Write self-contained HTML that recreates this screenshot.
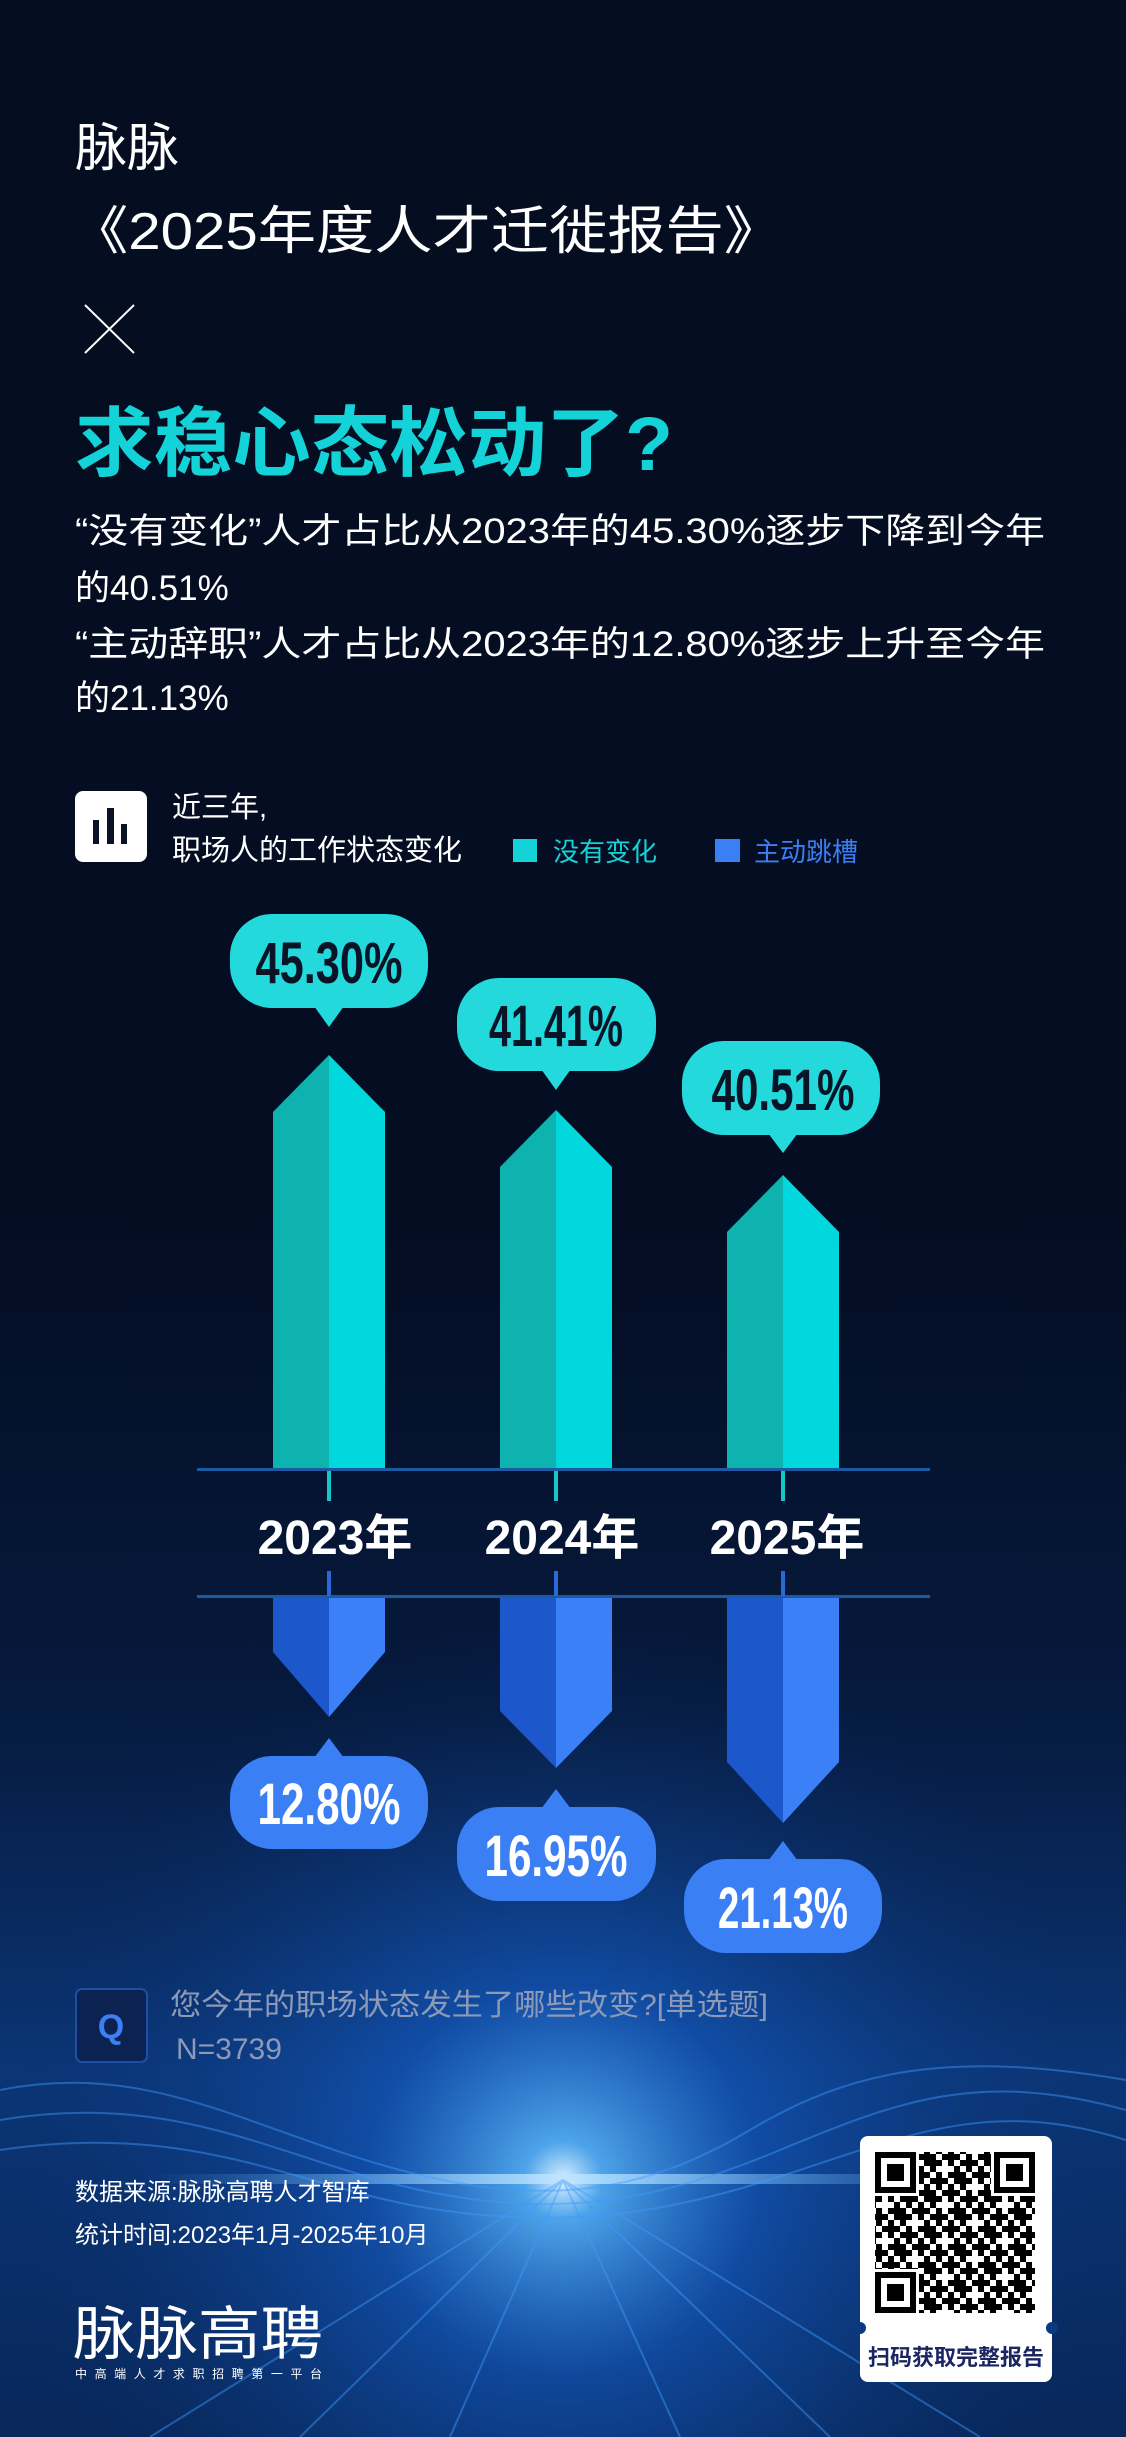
<!DOCTYPE html>
<html><head><meta charset="utf-8"><style>
html,body{margin:0;padding:0;background:#050e22;}
svg{display:block}
text{font-family:"Liberation Sans","Noto Sans CJK SC",sans-serif;}
</style></head><body>
<svg width="1126" height="2437" viewBox="0 0 1126 2437" xmlns="http://www.w3.org/2000/svg">
<defs>
<linearGradient id="bg" x1="0" y1="0" x2="0" y2="1">
<stop offset="0" stop-color="#050d20"/>
<stop offset="0.5" stop-color="#040d22"/>
<stop offset="0.7" stop-color="#061a3e"/>
<stop offset="0.85" stop-color="#0b3576"/>
<stop offset="1" stop-color="#08275a"/>
</linearGradient>
<radialGradient id="glow" cx="563" cy="2180" r="560" gradientUnits="userSpaceOnUse">
<stop offset="0" stop-color="#e0f2ff" stop-opacity="1"/>
<stop offset="0.07" stop-color="#5ab8ff" stop-opacity="0.85"/>
<stop offset="0.35" stop-color="#1766d8" stop-opacity="0.5"/>
<stop offset="1" stop-color="#0a2f6a" stop-opacity="0"/>
</radialGradient>
<linearGradient id="band" x1="0" y1="0" x2="1" y2="0">
<stop offset="0" stop-color="#5ab8ff" stop-opacity="0"/>
<stop offset="0.5" stop-color="#bfe4ff" stop-opacity="0.9"/>
<stop offset="1" stop-color="#5ab8ff" stop-opacity="0"/>
</linearGradient>
<pattern id="qa" width="12" height="12" patternUnits="userSpaceOnUse">
<rect x="0" y="0" width="6" height="6" fill="#000"/><rect x="6" y="6" width="6" height="6" fill="#000"/>
</pattern>
<pattern id="qb" width="30" height="18" patternUnits="userSpaceOnUse">
<rect x="0" y="0" width="12" height="6" fill="#000"/><rect x="18" y="12" width="12" height="6" fill="#000"/><rect x="12" y="6" width="6" height="6" fill="#fff"/>
</pattern>
</defs>
<rect width="1126" height="2437" fill="url(#bg)"/>
<rect y="1450" width="1126" height="987" fill="url(#glow)"/>
<rect x="150" y="2174" width="826" height="10" fill="url(#band)"/>
<g fill="none" stroke="#3f9bff" stroke-opacity="0.45" stroke-width="2">
<path d="M0 2090 C150 2060 250 2130 400 2170 S650 2190 750 2130 S950 2050 1126 2080"/>
<path d="M0 2120 C180 2090 280 2160 420 2190 S660 2200 780 2150 S980 2070 1126 2110"/>
<path d="M0 2150 C200 2120 300 2190 440 2210 S680 2210 800 2170 S1000 2100 1126 2140"/>
<path d="M563 2180 L300 2437 M563 2180 L450 2437 M563 2180 L680 2437 M563 2180 L830 2437 M563 2180 L150 2437 M563 2180 L980 2437"/>
</g>
<text x="75" y="166" font-size="52" fill="#fff">脉脉</text>
<text x="70" y="249" font-size="52" fill="#fff" textLength="712" lengthAdjust="spacingAndGlyphs">《2025年度人才迁徙报告》</text>
<path d="M85 305 L134 353 M134 305 L85 353" stroke="#fff" stroke-width="2"/>
<text x="75" y="470" font-size="76" font-weight="bold" fill="#14d3d8" textLength="598" lengthAdjust="spacingAndGlyphs">求稳心态松动了?</text>
<g font-size="35" fill="#fff">
<text x="75" y="543" textLength="970" lengthAdjust="spacingAndGlyphs">“没有变化”人才占比从2023年的45.30%逐步下降到今年</text>
<text x="75" y="600">的40.51%</text>
<text x="75" y="656" textLength="970" lengthAdjust="spacingAndGlyphs">“主动辞职”人才占比从2023年的12.80%逐步上升至今年</text>
<text x="75" y="710">的21.13%</text>
</g>
<rect x="75" y="791" width="72" height="71" rx="8" fill="#fff"/>
<g fill="#0a1226"><rect x="93" y="820" width="6" height="24"/><rect x="107" y="808" width="7" height="36"/><rect x="121" y="824" width="6" height="20"/></g>
<text x="172" y="817" font-size="29" fill="#fff">近三年,</text>
<text x="172" y="860" font-size="29" fill="#fff">职场人的工作状态变化</text>
<rect x="513" y="839" width="24" height="23" fill="#14d3d8"/>
<text x="553" y="861" font-size="26" fill="#14d3d8">没有变化</text>
<rect x="715" y="839" width="25" height="23" fill="#3b7ff5"/>
<text x="754" y="861" font-size="26" fill="#3b7ff5">主动跳槽</text>

<g>
<polygon points="273,1112 329,1055 329,1469 273,1469" fill="#0eb3b0"/><polygon points="329,1055 385,1112 385,1469 329,1469" fill="#00d8dd"/>
<polygon points="500,1167 556,1110 556,1469 500,1469" fill="#0eb3b0"/><polygon points="556,1110 612,1167 612,1469 556,1469" fill="#00d8dd"/>
<polygon points="727,1232 783,1175 783,1469 727,1469" fill="#0eb3b0"/><polygon points="783,1175 839,1232 839,1469 783,1469" fill="#00d8dd"/>
</g>
<rect x="197" y="1468" width="733" height="3" fill="#1a5aa0"/>
<g fill="#14c8c8"><rect x="327" y="1471" width="4" height="30"/><rect x="554" y="1471" width="4" height="30"/><rect x="781" y="1471" width="4" height="30"/></g>
<g fill="#23d9dc">
<rect x="230" y="914" width="198" height="94" rx="42"/><polygon points="314,1006 344,1006 329,1027"/>
<rect x="457" y="978" width="199" height="93" rx="42"/><polygon points="541,1069 571,1069 556,1090"/>
<rect x="682" y="1041" width="198" height="94" rx="42"/><polygon points="768,1133 798,1133 783,1153"/>
</g>
<g font-size="58" font-weight="bold" fill="#0a1426" text-anchor="middle">
<text x="329" y="983" textLength="147" lengthAdjust="spacingAndGlyphs">45.30%</text>
<text x="556" y="1046" textLength="134" lengthAdjust="spacingAndGlyphs">41.41%</text>
<text x="783" y="1110" textLength="143" lengthAdjust="spacingAndGlyphs">40.51%</text>
</g>
<g font-size="48" font-weight="bold" fill="#fff" text-anchor="middle">
<text x="335" y="1554">2023年</text><text x="562" y="1554">2024年</text><text x="787" y="1554">2025年</text>
</g>
<rect x="197" y="1595" width="733" height="3" fill="#1a5aa0"/>
<g fill="#2a6ad8"><rect x="327" y="1571" width="4" height="25"/><rect x="554" y="1571" width="4" height="25"/><rect x="781" y="1571" width="4" height="25"/></g>
<g>
<polygon points="273,1598 329,1598 329,1717 273,1652" fill="#1d57cc"/><polygon points="329,1598 385,1598 385,1652 329,1717" fill="#3b80f6"/>
<polygon points="500,1598 556,1598 556,1768 500,1711" fill="#1d57cc"/><polygon points="556,1598 612,1598 612,1711 556,1768" fill="#3b80f6"/>
<polygon points="727,1598 783,1598 783,1823 727,1762" fill="#1d57cc"/><polygon points="783,1598 839,1598 839,1762 783,1823" fill="#3b80f6"/>
</g>
<g fill="#3b7ff5">
<rect x="230" y="1756" width="198" height="93" rx="42"/><polygon points="314,1758 344,1758 329,1738"/>
<rect x="457" y="1807" width="199" height="94" rx="42"/><polygon points="541,1809 571,1809 556,1789"/>
<rect x="684" y="1859" width="198" height="94" rx="42"/><polygon points="768,1861 798,1861 783,1841"/>
</g>
<g font-size="58" font-weight="bold" fill="#fff" text-anchor="middle">
<text x="329" y="1824" textLength="143" lengthAdjust="spacingAndGlyphs">12.80%</text>
<text x="556" y="1876" textLength="143" lengthAdjust="spacingAndGlyphs">16.95%</text>
<text x="783" y="1928" textLength="130" lengthAdjust="spacingAndGlyphs">21.13%</text>
</g>
<rect x="76" y="1989" width="71" height="73" rx="6" fill="#0c2250" stroke="#1e4fa8" stroke-width="2"/>
<text x="111" y="2038" font-size="34" font-weight="bold" fill="#3b80f6" text-anchor="middle">Q</text>
<text x="170" y="2015" font-size="30" fill="#8c9ab8" textLength="598" lengthAdjust="spacingAndGlyphs">您今年的职场状态发生了哪些改变?[单选题]</text>
<text x="176" y="2059" font-size="30" fill="#8c9ab8">N=3739</text>
<text x="75" y="2200" font-size="24" fill="#fff">数据来源:脉脉高聘人才智库</text>
<text x="75" y="2243" font-size="24" fill="#fff">统计时间:2023年1月-2025年10月</text>
<text x="73" y="2354" font-size="58" fill="#fff" textLength="250" lengthAdjust="spacingAndGlyphs">脉脉高聘</text>
<text x="75" y="2378" font-size="12" fill="#fff" textLength="247" lengthAdjust="spacing">中高端人才求职招聘第一平台</text>
<rect x="860" y="2136" width="192" height="246" rx="8" fill="#fff"/>
<circle cx="860" cy="2328" r="6" fill="#0a3a80"/><circle cx="1052" cy="2328" r="6" fill="#0a3a80"/>
<rect x="875" y="2152" width="160" height="161" fill="url(#qa)"/>
<rect x="875" y="2152" width="160" height="161" fill="url(#qb)"/>
<g fill="#fff"><rect x="875" y="2152" width="44" height="44"/><rect x="991" y="2152" width="44" height="44"/><rect x="875" y="2269" width="44" height="44"/></g>
<g fill="none" stroke="#000" stroke-width="6"><rect x="878" y="2155" width="35" height="35"/><rect x="997" y="2155" width="35" height="35"/><rect x="878" y="2275" width="35" height="35"/></g>
<g fill="#000"><rect x="887" y="2164" width="17" height="17"/><rect x="1006" y="2164" width="17" height="17"/><rect x="887" y="2284" width="17" height="17"/></g>
<text x="956" y="2365" font-size="22" font-weight="bold" fill="#1b2562" text-anchor="middle">扫码获取完整报告</text>
</svg>
</body></html>
